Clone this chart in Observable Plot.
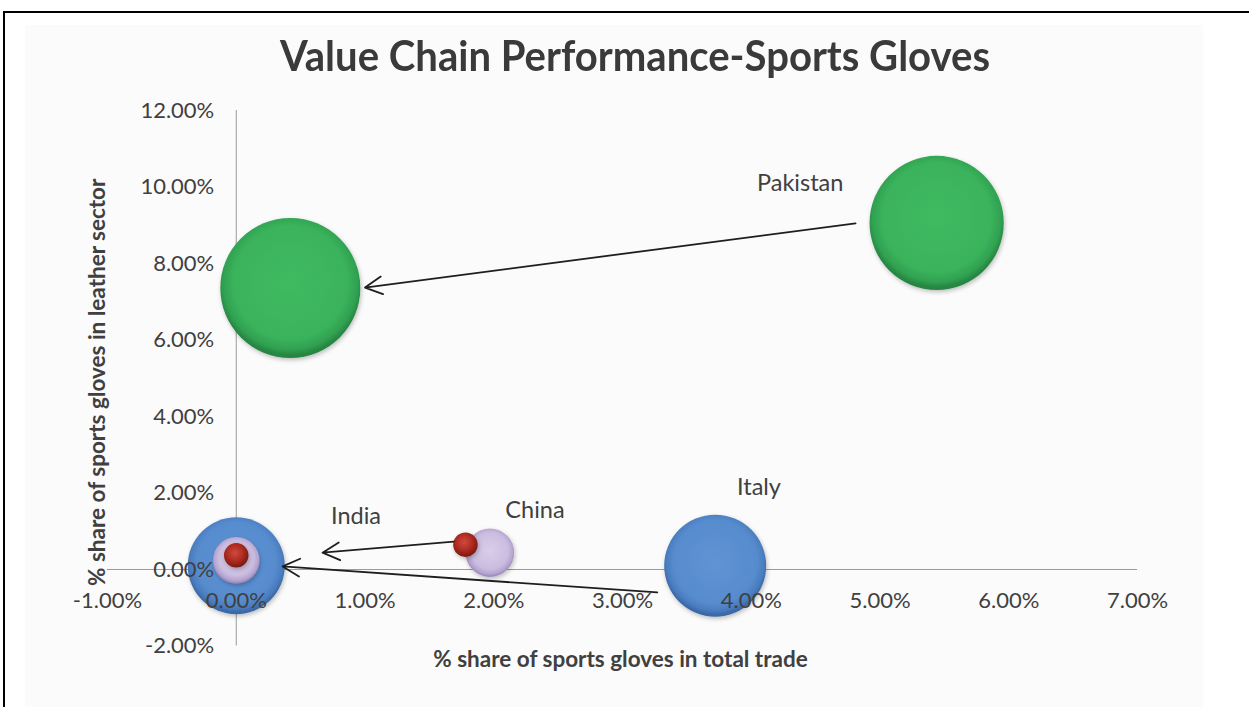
<!DOCTYPE html>
<html>
<head>
<meta charset="utf-8">
<script src="https://cdn.jsdelivr.net/npm/d3@7"></script>
<script src="https://cdn.jsdelivr.net/npm/@observablehq/plot@0.6"></script>
<style>
  html, body { margin: 0; padding: 0; background: #ffffff; overflow: hidden; }
  body { width: 1249px; height: 707px; position: relative; font-family: Lato, "Open Sans", sans-serif; }
  #topline { position: absolute; left: 3px; top: 11px; width: 1246px; height: 2px; background: #000; }
  #leftline { position: absolute; left: 3px; top: 11px; width: 2px; height: 696px; background: #000; }
  #bg { position: absolute; left: 25px; top: 25px; width: 1178px; height: 682px; background: #fbfbfb; }
  #title { position: absolute; left: 0; top: 0; width: 1249px; height: 90px; }
  #title span { position: absolute; top: 34px; left: 635px; white-space: nowrap; font: bold 42px Lato, sans-serif; line-height: 42px; color: #3a3a3a; transform-origin: 0 0; }
  #chart { position: absolute; left: 0; top: 90px; width: 1249px; height: 617px; }
  #defs { position: absolute; left: 0; top: 0; width: 0; height: 0; }
</style>
</head>
<body>
<div id="bg"></div>
<div id="topline"></div>
<div id="leftline"></div>
<div id="title"><span id="titleText">Value Chain Performance-Sports Gloves</span></div>
<svg id="defs" width="0" height="0">
  <defs>
    <radialGradient id="gGreen" cx="50%" cy="46%" r="52%">
      <stop offset="0%" stop-color="#3fba62"/>
      <stop offset="78%" stop-color="#3ab35c"/>
      <stop offset="92%" stop-color="#31a151"/>
      <stop offset="100%" stop-color="#268643"/>
    </radialGradient>
    <radialGradient id="gBlue" cx="50%" cy="46%" r="52%">
      <stop offset="0%" stop-color="#5e93d4"/>
      <stop offset="78%" stop-color="#578cce"/>
      <stop offset="92%" stop-color="#4a7dbf"/>
      <stop offset="100%" stop-color="#3c68a6"/>
    </radialGradient>
    <radialGradient id="gLav" cx="50%" cy="46%" r="52%">
      <stop offset="0%" stop-color="#d9cdea"/>
      <stop offset="72%" stop-color="#cbbde0"/>
      <stop offset="92%" stop-color="#b4a3cf"/>
      <stop offset="100%" stop-color="#9f8dbd"/>
    </radialGradient>
    <radialGradient id="gRed" cx="45%" cy="40%" r="58%">
      <stop offset="0%" stop-color="#cf4a3e"/>
      <stop offset="60%" stop-color="#ad2a20"/>
      <stop offset="100%" stop-color="#7c1a12"/>
    </radialGradient>
    <filter id="shadow" x="-20%" y="-20%" width="140%" height="140%">
      <feDropShadow dx="1" dy="2" stdDeviation="2" flood-color="#000" flood-opacity="0.25"/>
    </filter>
  </defs>
</svg>
<div id="chart"></div>
<script>
// ---- data (percent units) ----
const bubbleCountry = ["India", "Pakistan", "Pakistan", "Italy", "Italy", "China", "China", "India"];
const bubbleX = [0.00, 5.44, 0.42, 3.72, 0.00, 1.97, 0.00, 1.78];
const bubbleY = [0.37, 9.06, 7.36, 0.10, 0.10, 0.44, 0.24, 0.65];
const bubbleSize = [0.15, 4.50, 4.90, 2.60, 2.35, 0.59, 0.54, 0.15];

const arrowFromX = [4.81, 1.69, 3.27];
const arrowFromY = [9.05, 0.73, -0.60];
const arrowToX = [1.00, 0.67, 0.36];
const arrowToY = [7.37, 0.44, 0.08];

const labelText = ["Pakistan", "Italy", "China", "India"];
const labelX = [4.38, 4.06, 2.32, 0.93];
const labelY = [10.09, 2.14, 1.54, 1.39];

const xTicks = [-1, 0, 1, 2, 3, 4, 5, 6, 7];
const yTicks = [-2, 0, 2, 4, 6, 8, 10, 12];

const xTitle = "% share of sports gloves in total trade";
const yTitle = "% share of sports gloves in leather sector";

const countryFill = { Pakistan: "url(#gGreen)", Italy: "url(#gBlue)", China: "url(#gLav)", India: "url(#gRed)" };

// ---- tables built from arrays ----
const bubbles = bubbleX.map((x, i) => ({ country: bubbleCountry[i], x, y: bubbleY[i], size: bubbleSize[i] }))
  .sort((a, b) => b.size - a.size);
const arrows = arrowFromX.map((x1, i) => ({ x1, y1: arrowFromY[i], x2: arrowToX[i], y2: arrowToY[i] }));
const labels = labelText.map((t, i) => ({ t, x: labelX[i], y: labelY[i] }));
const fmt = v => v.toFixed(2) + "%";

const chart = Plot.plot({
  width: 1249,
  height: 617,
  marginLeft: 107,
  marginRight: 112,
  marginTop: 20,
  marginBottom: 61.5,
  style: { background: "transparent", fontFamily: "Lato, 'Open Sans', sans-serif", overflow: "visible" },
  x: { domain: [-1, 7], axis: null },
  y: { domain: [-2, 12], axis: null },
  r: { type: "sqrt", domain: [0, 4.9], range: [0, 70] },
  marks: [
    Plot.ruleY([0], { x1: -1, x2: 7, stroke: "#9a9a9a", strokeWidth: 1 }),
    Plot.ruleX([0], { y1: -2, y2: 12, stroke: "#9a9a9a", strokeWidth: 1 }),
    Plot.dot(bubbles, { x: "x", y: "y", r: "size", fill: d => countryFill[d.country], stroke: "none" }),
    Plot.text(xTicks, { x: d => d, y: 0, dy: 31, text: fmt, fontSize: 22, fill: "#404040" }),
    Plot.text(yTicks, { x: 0, y: d => d, dx: -22, text: fmt, textAnchor: "end", fontSize: 22, fill: "#404040" }),
    Plot.arrow(arrows, { x1: "x1", y1: "y1", x2: "x2", y2: "y2", stroke: "#1e1e1e", strokeWidth: 1.8, headLength: 16, headAngle: 55 }),
    Plot.text(labels, { x: "x", y: "y", text: "t", fontSize: 23.5, fill: "#404040" }),
    Plot.text([xTitle], { frameAnchor: "bottom", dy: 21, dx: -2, text: d => d, fontSize: 22.5, fontWeight: "bold", fill: "#404040" }),
    Plot.text([yTitle], { frameAnchor: "left", textAnchor: "middle", dx: -10, dy: 4, rotate: -90, text: d => d, fontSize: 22.5, fontWeight: "bold", fill: "#404040" })
  ]
});
document.getElementById("chart").appendChild(chart);
d3.select(chart).selectAll("circle").attr("filter", "url(#shadow)");

// fit title width to reference (~710px), centered at x=635
function fitTitle() {
  const el = document.getElementById("titleText");
  el.style.transform = "none";
  const w = el.getBoundingClientRect().width;
  const s = 710 / w;
  el.style.left = (635 - 355) + "px";
  el.style.transform = `scaleX(${s})`;
}
fitTitle();
if (document.fonts && document.fonts.ready) document.fonts.ready.then(fitTitle);
</script>
</body>
</html>
